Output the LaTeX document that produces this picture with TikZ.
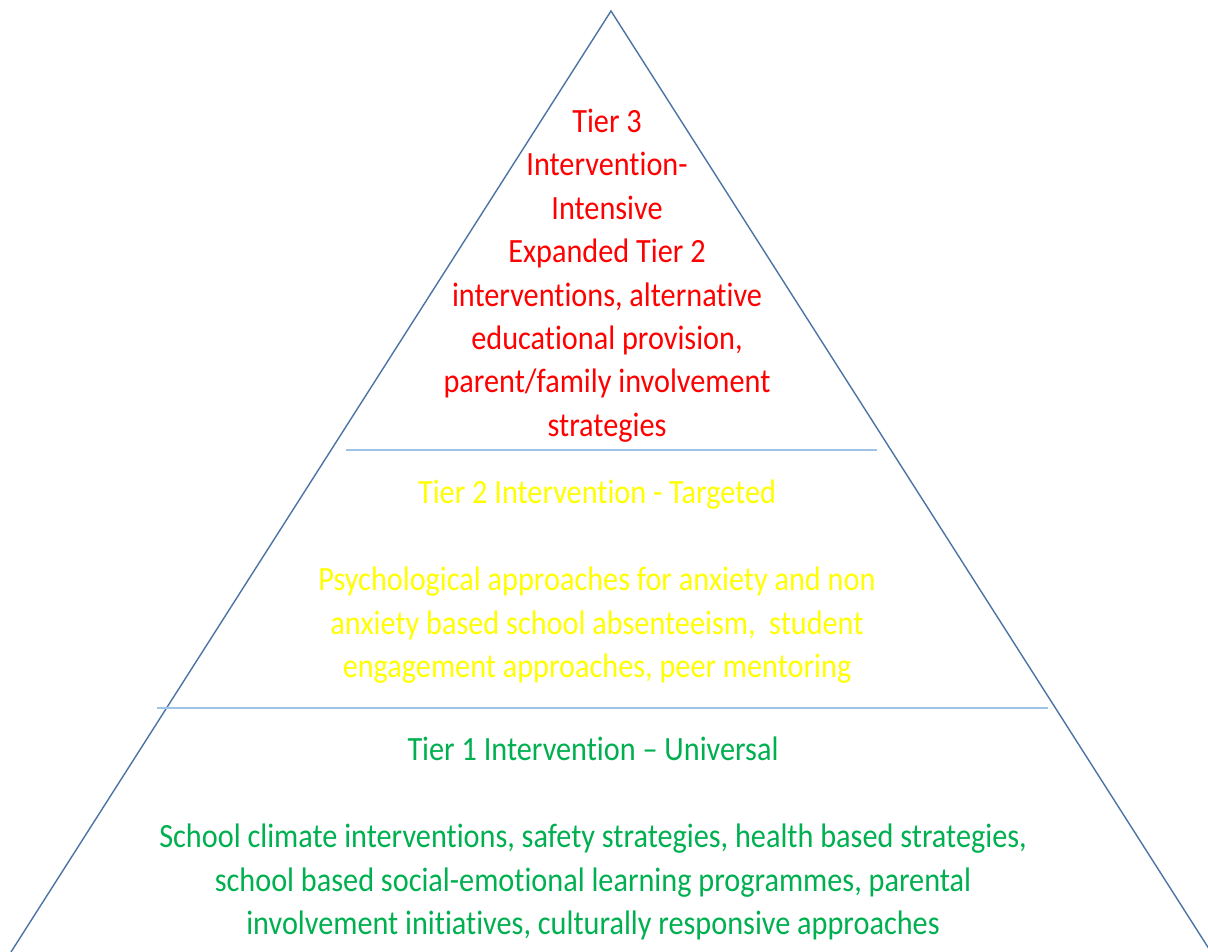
\documentclass[tikz,border=0pt]{standalone}
\usepackage{fontspec}
\setmainfont{Carlito}[Ligatures=NoCommon]
\definecolor{edgeblue}{HTML}{4A74A4}
\definecolor{divblue}{HTML}{9DC3E6}
\definecolor{tierred}{HTML}{FF0000}
\definecolor{tieryellow}{HTML}{FFFF00}
\definecolor{tiergreen}{HTML}{00B050}
\tikzset{
  side/.style={draw=edgeblue, line width=1.4pt},
  divider/.style={draw=divblue, line width=1.1pt},
  tiertext/.style={align=center, inner sep=0pt, anchor=north, xscale=0.89,
    font=\fontsize{34}{43.4}\selectfont}
}
\begin{document}
\begin{tikzpicture}[x=1pt, y=-1pt]
  \useasboundingbox (0,0) rectangle (1208,952);
  \begin{scope}
    \clip (0,0) rectangle (1208,952);
    % pyramid outline
    \coordinate (apex) at (611,11);
    \coordinate (baseL) at (11,952);
    \coordinate (baseR) at (1211,952);
    \draw[side] (baseL) -- (apex) -- (baseR);
  \end{scope}
  % tier dividers
  \coordinate (d1L) at (346,450);
  \coordinate (d1R) at (877,450);
  \coordinate (d2L) at (157,708);
  \coordinate (d2R) at (1048,708);
  \draw[divider] (d1L) -- (d1R);
  \draw[divider] (d2L) -- (d2R);
  % tier descriptions
  \node[tiertext, text=tierred] (tier3) at (607,109)
    {Tier 3\\Intervention-\\Intensive\\Expanded Tier 2\\interventions, alternative\\educational provision,\\parent/family involvement\\strategies};
  \node[tiertext, text=tieryellow] (tier2) at (597,480)
    {Tier 2 Intervention - Targeted\\[43.4pt]Psychological approaches for anxiety and non\\anxiety based school absenteeism,\ \ student\\engagement approaches, peer mentoring};
  \node[tiertext, text=tiergreen] (tier1) at (593,737)
    {Tier 1 Intervention – Universal\\[43.4pt]School climate interventions, safety strategies, health based strategies,\\school based social-emotional learning programmes, parental\\involvement initiatives, culturally responsive approaches};
\end{tikzpicture}
\end{document}
